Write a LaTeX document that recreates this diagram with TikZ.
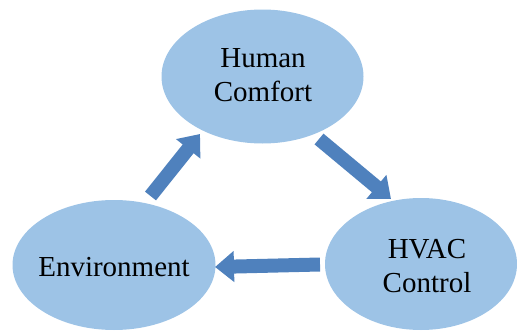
\documentclass[tikz,border=0pt]{standalone}
\usepackage{fontspec}
\setmainfont{Liberation Serif}
\usetikzlibrary{shapes.geometric,arrows.meta}
\definecolor{bubblefill}{HTML}{9DC3E6}
\definecolor{arrowfill}{HTML}{4F81BD}
\begin{document}
\begin{tikzpicture}[x=1pt,y=-1pt,
  bubble/.style={ellipse,fill=bubblefill,draw=none,inner sep=0pt},
  txt/.style={font=\fontsize{29}{34}\selectfont,align=center,text=black},
  flow/.style={draw=arrowfill,line width=14pt,
    -{Triangle[width=30pt,length=19pt]}}]
  \useasboundingbox (0,0) rectangle (517,332);

  % three states of the loop
  \node[bubble,minimum width=202pt,minimum height=134pt] (hc)   at (262.5,76.5) {};
  \node[bubble,minimum width=192pt,minimum height=132pt] (hvac) at (421,264) {};
  \node[bubble,minimum width=203pt,minimum height=130pt] (env)  at (114,265) {};

  \node[txt] (hcT)   at (263,75.5) {Human\\Comfort};
  \node[txt] (hvacT) at (427,266.5) {HVAC\\Control};
  \node[txt] (envT)  at (114,267) {Environment};

  % arrow ends
  \coordinate (a1s) at (150.5,196);
  \coordinate (a1e) at (200,134);
  \coordinate (a2s) at (319,139);
  \coordinate (a2e) at (391,199);
  \coordinate (a3s) at (320,264.5);
  \coordinate (a3e) at (215,267);

  \draw[flow] (a1s) -- (a1e);
  \draw[flow] (a2s) -- (a2e);
  \draw[flow] (a3s) -- (a3e);
\end{tikzpicture}
\end{document}
